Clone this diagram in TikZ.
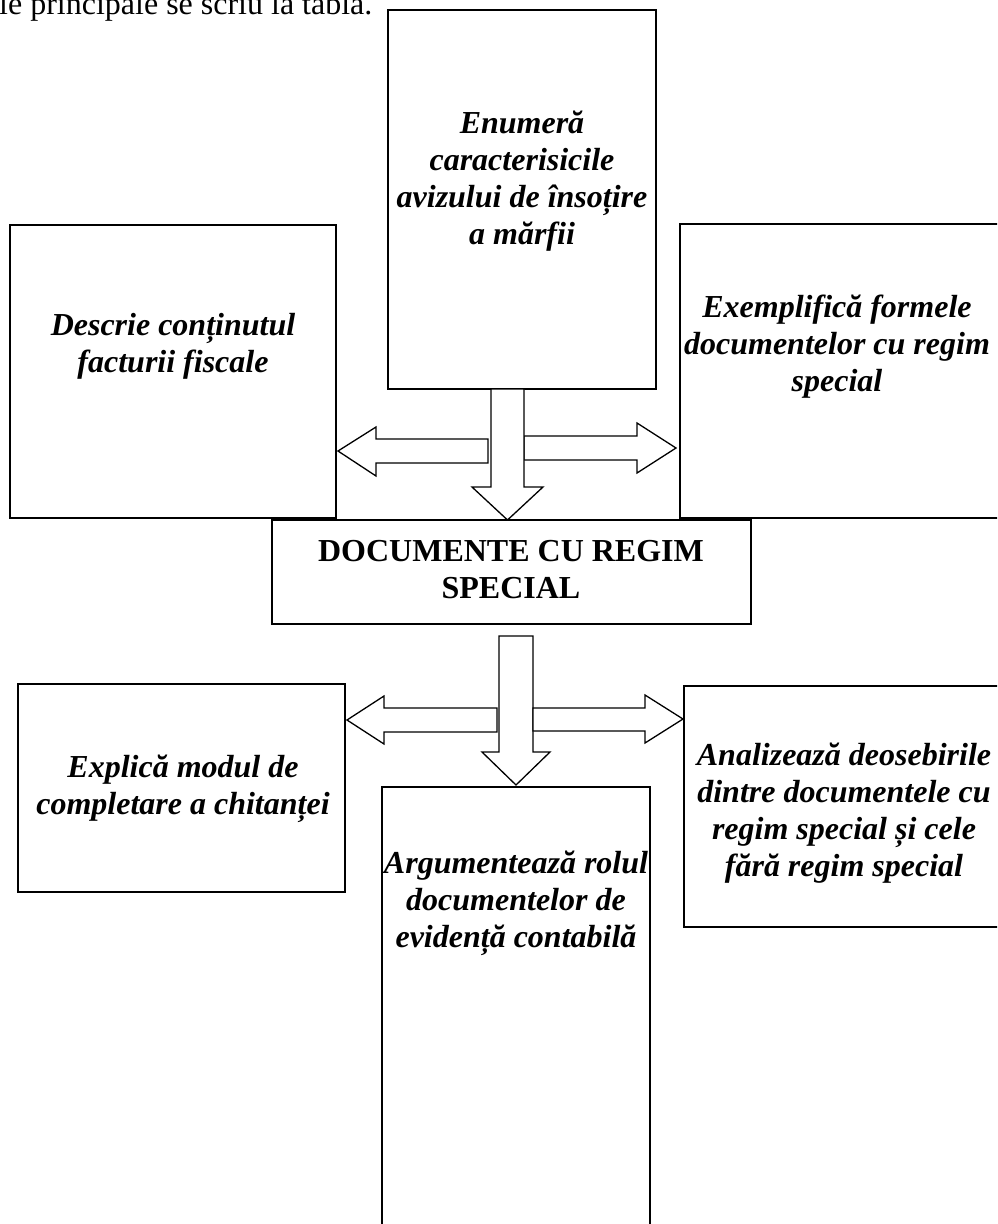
\documentclass[tikz,border=0pt]{standalone}
\usepackage{fontspec}
\setmainfont{Liberation Serif}
\begin{document}
\begin{tikzpicture}[x=1pt,y=-1pt,
  boxline/.style={draw=black,line width=1.6pt,fill=white},
  blockarrow/.style={draw=black,line width=1.3pt,fill=white,line join=miter},
  boxtext/.style={align=center,inner sep=0pt,font=\fontsize{32}{37}\selectfont\bfseries\itshape},
  titletext/.style={align=center,inner sep=0pt,font=\fontsize{32}{37}\selectfont\bfseries}]
\useasboundingbox (0,0) rectangle (997,1224);
\clip (0,0) rectangle (997,1224);
% intro line (cut at top)
\node[anchor=base west,inner sep=0pt,font=\fontsize{32}{37}\selectfont] (intro) at (-1,14) {le principale se scriu la tabla.};
% boxes
\draw[boxline] (388,10) rectangle (656,389) coordinate (topbr);
\coordinate (topbox) at (522,200);
\draw[boxline] (10,225) rectangle (336,518);
\draw[boxline] (680,224) rectangle (1010,518);
\draw[boxline] (272,520) rectangle (751,624);
\draw[boxline] (18,684) rectangle (345,892);
\draw[boxline] (684,686) rectangle (1010,927);
\draw[boxline] (382,787) rectangle (650,1240);
% upper arrows
\draw[blockarrow] (488,439) -- (376,439) -- (376,427) -- (338,451) -- (376,476) -- (376,463) -- (488,463) -- cycle;
\draw[blockarrow] (524,436) -- (637,436) -- (637,423) -- (676,448) -- (637,473) -- (637,460) -- (524,460) -- cycle;
\draw[blockarrow] (491,389) -- (491,487) -- (472,487) -- (507.5,520) -- (543,487) -- (524,487) -- (524,389) -- cycle;
% lower arrows
\draw[blockarrow] (499,636) -- (533,636) -- (533,752) -- (550,752) -- (516,785) -- (482,752) -- (499,752) -- cycle;
\draw[blockarrow] (497,708) -- (384,708) -- (384,696) -- (347,720) -- (384,744) -- (384,732) -- (497,732) -- cycle;
\draw[blockarrow] (533,708) -- (645,708) -- (645,695) -- (683,719) -- (645,743) -- (645,731) -- (533,731) -- cycle;
% texts
\node[boxtext] (t1) at (522,181) {Enumeră\\caracterisicile\\avizului de însoțire\\a mărfii};
\node[boxtext] (t2) at (173,346) {Descrie conținutul\\facturii fiscale};
\node[boxtext] (t3) at (837,347) {Exemplifică formele\\documentelor cu regim\\special};
\node[titletext] (t4) at (511,570) {DOCUMENTE CU REGIM\\SPECIAL};
\node[boxtext] (t5) at (183,789) {Explică modul de\\completare a chitanței};
\node[boxtext] (t6) at (844,813) {Analizează deosebirile\\dintre documentele cu\\regim special și cele\\fără regim special};
\node[boxtext] (t7) at (516,903) {Argumentează rolul\\documentelor de\\evidență contabilă};
\end{tikzpicture}
\end{document}
